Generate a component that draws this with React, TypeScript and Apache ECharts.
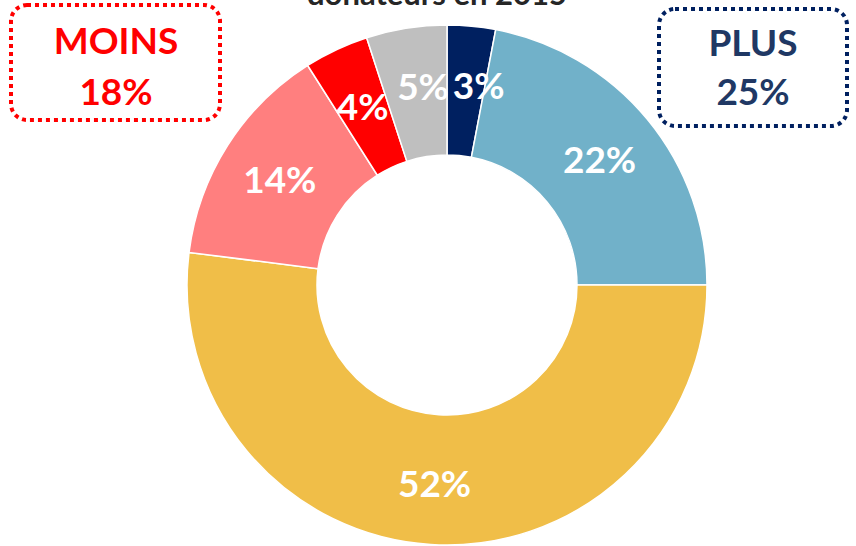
import React, { useEffect, useRef } from "react";
import * as echarts from "echarts";

const categories = ["Plus (forte hausse)", "Plus", "Stable", "Moins", "Moins (forte baisse)", "Autre"];
const values = [3, 22, 52, 14, 4, 5];
const colors = ["#002060", "#71B1C9", "#F0BE48", "#FF7F7F", "#FF0000", "#BFBFBF"];
const labelShift = [[13, -3], [0, 0], [0, 0], [0, 0], [0, 0], [7, -4]];
const titleText = "donateurs en 2015";
const moinsLabel = ["MOINS", "18%"];
const plusLabel = ["PLUS", "25%"];

export default function App() {
  const ref = useRef<HTMLDivElement>(null);
  useEffect(() => {
    if (!ref.current) return;
    const chart = echarts.init(ref.current, null, { renderer: "svg" });
    const font = "Lato, 'Open Sans', sans-serif";
    chart.setOption({
      animation: false,
      backgroundColor: "#ffffff",
      series: [
        {
          type: "pie",
          center: [447, 285],
          radius: [130, 260],
          startAngle: 90,
          clockwise: true,
          avoidLabelOverlap: false,
          itemStyle: { borderColor: "#ffffff", borderWidth: 1.5 },
          label: {
            show: true,
            position: "inside",
            formatter: "{c}%",
            color: "#ffffff",
            fontFamily: font,
            fontWeight: "bold",
            fontSize: 37,
          },
          labelLayout: (p: any) => ({ dx: labelShift[p.dataIndex][0], dy: labelShift[p.dataIndex][1] }),
          emphasis: { disabled: true },
          data: categories.map((n, i) => ({ name: n, value: values[i], itemStyle: { color: colors[i] } })),
        },
      ],
      graphic: [
        {
          type: "text",
          x: 437,
          y: -7,
          style: {
            text: titleText,
            fontFamily: font,
            fontWeight: "bold",
            fontSize: 31,
            fill: "#262626",
            align: "center",
            verticalAlign: "middle",
          },
        },
        {
          type: "rect",
          shape: { x: 11, y: 5, width: 209, height: 115, r: 16 },
          style: { fill: "none", stroke: "#FF0000", lineWidth: 4, lineDash: [4, 4] },
        },
        {
          type: "text",
          x: 116,
          y: 39,
          style: { text: moinsLabel[0], fontFamily: font, fontWeight: "bold", fontSize: 37, fill: "#FF0000", align: "center", verticalAlign: "middle" },
        },
        {
          type: "text",
          x: 116,
          y: 90,
          style: { text: moinsLabel[1], fontFamily: font, fontWeight: "bold", fontSize: 37, fill: "#FF0000", align: "center", verticalAlign: "middle" },
        },
        {
          type: "rect",
          shape: { x: 659, y: 9, width: 188, height: 117, r: 16 },
          style: { fill: "none", stroke: "#002060", lineWidth: 4, lineDash: [4, 4] },
        },
        {
          type: "text",
          x: 753,
          y: 41,
          style: { text: plusLabel[0], fontFamily: font, fontWeight: "bold", fontSize: 37, fill: "#203864", align: "center", verticalAlign: "middle" },
        },
        {
          type: "text",
          x: 753,
          y: 90,
          style: { text: plusLabel[1], fontFamily: font, fontWeight: "bold", fontSize: 37, fill: "#203864", align: "center", verticalAlign: "middle" },
        },
      ],
    });
    return () => chart.dispose();
  }, []);
  return <div ref={ref} style={{ position: "absolute", left: 0, top: 0, width: 856, height: 546 }} />;
}
